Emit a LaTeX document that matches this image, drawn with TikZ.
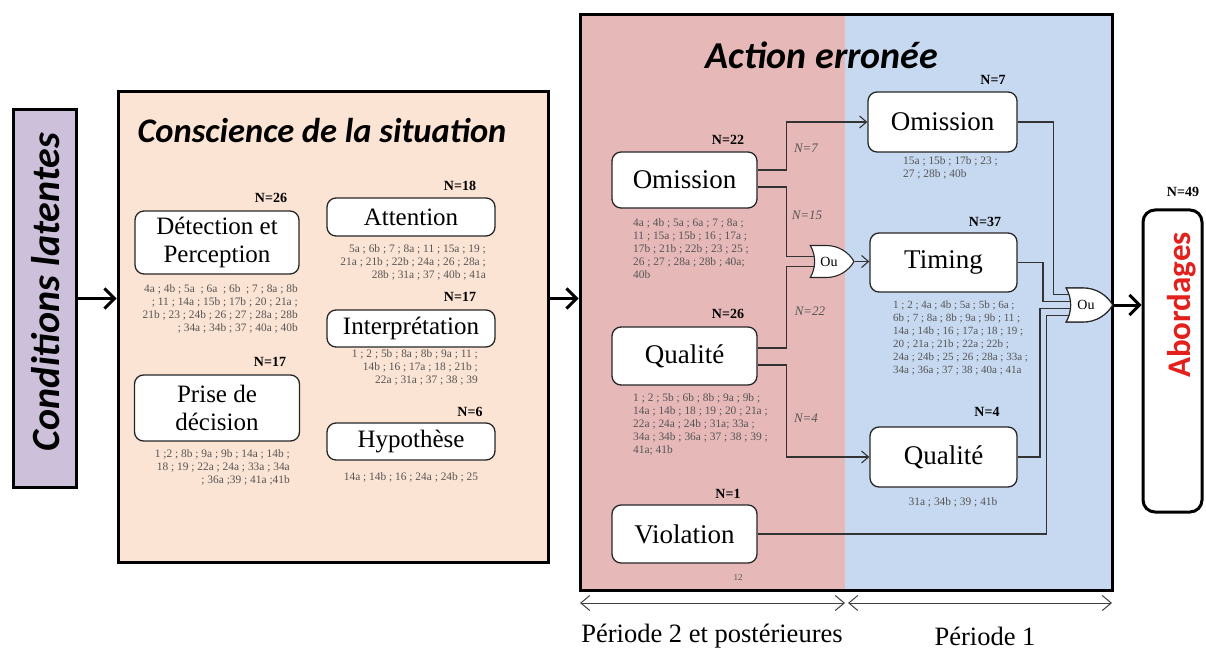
\documentclass[tikz,border=0pt]{standalone}
\usepackage{fontspec}
\setmainfont{Liberation Serif}
\newfontfamily\calib{Carlito}
\usetikzlibrary{arrows.meta,shapes.gates.logic.US,calc}
\definecolor{lavc}{HTML}{CCC0DA}
\definecolor{peachc}{HTML}{FCE4D4}
\definecolor{pinkc}{HTML}{E6B9B8}
\definecolor{bluec}{HTML}{C6D9F0}
\definecolor{redc}{HTML}{E3201B}
\definecolor{listc}{HTML}{555555}
\begin{document}
\begin{tikzpicture}[x=1pt,y=-1pt,
  bigbox/.style={draw=black,line width=3pt,inner sep=0pt},
  inbox/.style={draw=black!85,line width=1.3pt,rounded corners=9pt,fill=white,
    font=\fontsize{25}{28}\selectfont,align=center,inner sep=0pt},
  abox/.style={inbox,font=\fontsize{27}{28}\selectfont},
  nlab/.style={font=\bfseries\fontsize{14}{14}\selectfont,inner sep=0pt},
  lst/.style={font=\fontsize{11.4}{13}\selectfont,text=listc,inner sep=0pt},
  elab/.style={font=\itshape\fontsize{13}{13}\selectfont,text=listc,inner sep=0pt},
  wire/.style={draw=black!80,line width=1.1pt},
  conn/.style={wire,-{Straight Barb[length=7pt,width=12pt]}},
  bigarrow/.style={line width=3pt,-{Straight Barb[length=10pt,width=20pt]}},
  period/.style={draw=black!75,line width=1pt,{Straight Barb[length=9pt,width=15pt]}-{Straight Barb[length=9pt,width=15pt]}},
  orgate/.style={or gate US,draw=black!85,line width=1.1pt,fill=white,inner sep=0pt,
    font=\fontsize{14}{14}\selectfont},
  ptext/.style={font=\fontsize{26.5}{26.5}\selectfont,inner sep=0pt}
]
\useasboundingbox (0,0) rectangle (1206,652);

% Conditions latentes
\node[bigbox,fill=lavc,minimum width=63pt,minimum height=377pt] (cond) at (44.5,298.5) {};
\node[rotate=90,font=\calib\bfseries\itshape\fontsize{40}{40}\selectfont,inner sep=0pt] (condt) at (46,292) {Conditions latentes};

% Conscience de la situation
\node[bigbox,fill=peachc,minimum width=430pt,minimum height=470pt] (consc) at (333,327) {};
\node[font=\calib\bfseries\itshape\fontsize{34.5}{34}\selectfont,inner sep=0pt] (consct) at (322,131) {Conscience de la situation};

\node[inbox,minimum width=164pt,minimum height=63pt] (det) at (217,242.5) {Détection et\\Perception};
\node[nlab] (ndet) at (271,198) {N=26};
\node[lst,align=right,anchor=north east] (ldet) at (298,284) {4a ; 4b ; 5a ~; 6a ~; 6b ~; 7 ; 8a ; 8b\\ ; 11 ; 14a ; 15b ; 17b ; 20 ; 21a ;\\21b ; 23 ; 24b ; 26 ; 27 ; 28a ; 28b\\; 34a ; 34b ; 37 ; 40a ; 40b};

\node[inbox,minimum width=165pt,minimum height=66pt] (prise) at (217,408) {Prise de\\décision};
\node[nlab] (nprise) at (270,362) {N=17};
\node[lst,align=right,anchor=north east] (lprise) at (290,449) {1 ;2 ; 8b ; 9a ; 9b ; 14a ; 14b ;\\18 ; 19 ; 22a ; 24a ; 33a ; 34a\\; 36a ;39 ; 41a ;41b};

\node[inbox,minimum width=168pt,minimum height=38pt] (att) at (411,217) {Attention};
\node[nlab] (natt) at (460,186) {N=18};
\node[lst,align=right,anchor=north east] (latt) at (486,244) {5a ; 6b ; 7 ; 8a ; 11 ; 15a ; 19 ;\\21a ; 21b ; 22b ; 24a ; 26 ; 28a ;\\28b ; 31a ; 37 ; 40b ; 41a};

\node[inbox,minimum width=168pt,minimum height=37pt] (interp) at (411,328.5) {Interprétation};
\node[nlab] (ninterp) at (460,297) {N=17};
\node[lst,align=right,anchor=north east] (linterp) at (478,349) {1 ; 2 ; 5b ; 8a ; 8b ; 9a ; 11 ;\\14b ; 16 ; 17a ; 18 ; 21b ;\\22a ; 31a ; 37 ; 38 ; 39};

\node[inbox,minimum width=168pt,minimum height=37pt] (hyp) at (411,441.5) {Hypothèse};
\node[nlab] (nhyp) at (470,412) {N=6};
\node[lst] (lhyp) at (411,477) {14a ; 14b ; 16 ; 24a ; 24b ; 25};

% Action erronee
\fill[pinkc] (580,15) rectangle (845,590);
\fill[bluec] (845,15) rectangle (1112,590);
\node[bigbox,minimum width=532pt,minimum height=575pt] (act) at (846,302.5) {};
\node[font=\calib\bfseries\itshape\fontsize{38}{38}\selectfont,inner sep=0pt] (actt) at (822,55) {Action erronée};

\node[abox,minimum width=145pt,minimum height=56pt] (om1) at (684.5,180) {Omission};
\node[nlab] (nom1) at (728,140) {N=22};
\node[lst,align=left,anchor=north west] (lom1) at (633,218) {4a ; 4b ; 5a ; 6a ; 7 ; 8a ;\\11 ; 15a ; 15b ; 16 ; 17a ;\\17b ; 21b ; 22b ; 23 ; 25 ;\\26 ; 27 ; 28a ; 28b ; 40a;\\40b};

\node[abox,minimum width=145pt,minimum height=58pt] (qu1) at (684.5,356) {Qualité};
\node[nlab] (nqu1) at (728,314) {N=26};
\node[lst,align=left,anchor=north west] (lqu1) at (633,393) {1 ; 2 ; 5b ; 6b ; 8b ; 9a ; 9b ;\\14a ; 14b ; 18 ; 19 ; 20 ; 21a ;\\22a ; 24a ; 24b ; 31a; 33a ;\\34a ; 34b ; 36a ; 37 ; 38 ; 39 ;\\41a; 41b};

\node[abox,minimum width=145pt,minimum height=58pt] (vio) at (684.5,534) {Violation};
\node[nlab] (nvio) at (728,494) {N=1};
\node[lst,font=\fontsize{9}{9}\selectfont] (lvio) at (738,578) {12};

\node[abox,minimum width=149pt,minimum height=60pt] (om2) at (942.5,122) {Omission};
\node[nlab] (nom2) at (993,80) {N=7};
\node[lst,align=left,anchor=north west] (lom2) at (903,156) {15a ; 15b ; 17b ; 23 ;\\27 ; 28b ; 40b};

\node[abox,minimum width=147pt,minimum height=59pt] (tim) at (943.5,262.5) {Timing};
\node[nlab] (ntim) at (985,222) {N=37};
\node[lst,align=left,anchor=north west,font=\fontsize{11}{13}\selectfont] (ltim) at (893,301) {1 ; 2 ; 4a ; 4b ; 5a ; 5b ; 6a ;\\6b ; 7 ; 8a ; 8b ; 9a ; 9b ; 11 ;\\14a ; 14b ; 16 ; 17a ; 18 ; 19 ;\\20 ; 21a ; 21b ; 22a ; 22b ;\\24a ; 24b ; 25 ; 26 ; 28a ; 33a ;\\34a ; 36a ; 37 ; 38 ; 40a ; 41a};

\node[abox,minimum width=147pt,minimum height=60pt] (qu2) at (943.5,457) {Qualité};
\node[nlab] (nqu2) at (987,412) {N=4};
\node[lst] (lqu2) at (953,502) {31a ; 34b ; 39 ; 41b};

% OR gates
\node[orgate,logic gate inputs=nn,minimum width=32pt,minimum height=32pt] (or1) at (829,261.5) {Ou};
\node[orgate,logic gate inputs=nnnn,minimum width=35pt,minimum height=34pt] (or2) at (1086,305) {Ou};

% middle connectors
\draw[conn] ([yshift=10pt]om1.east) -- ++(29,0) |- (om2.west);
\draw[wire] ([yshift=-7pt]om1.east) -- ++(29,0) |- (or1.input 1);
\draw[wire] ([yshift=8pt]qu1.east) -- ++(29,0) |- (or1.input 2);
\draw[conn] ([yshift=-9pt]qu1.east) -- ++(29,0) |- (qu2.west);
\draw[conn] (or1.output) -- (or1.output -| tim.west);
\node[elab] (e7) at (806,148) {N=7};
\node[elab] (e15) at (807,215) {N=15};
\node[elab] (e22) at (810,311) {N=22};
\node[elab] (e4) at (806,418) {N=4};

% right connectors
\draw[wire] (om2.east) -| ([xshift=-15pt]or2.input 1) -- (or2.input 1);
\draw[wire] (tim.east) -| ([xshift=-27pt]or2.input 2) -- (or2.input 2);
\draw[wire] (qu2.east) -| ([xshift=-30pt]or2.input 3) -- (or2.input 3);
\draw[wire] (vio.east) -| ([xshift=-22pt]or2.input 4) -- (or2.input 4);
\node[orgate,logic gate inputs=nnnn,minimum width=35pt,minimum height=34pt] at (1086,305) {Ou};

% Abordages
\node[bigbox,rounded corners=12pt,fill=white,minimum width=59pt,minimum height=302pt] (abord) at (1172.5,361) {};
\node[rotate=90,text=redc,font=\calib\bfseries\fontsize{33}{33}\selectfont,inner sep=0pt] (abordt) at (1182,305) {Abordages};
\node[nlab] (nab) at (1183,192) {N=49};

% main arrows
\draw[bigarrow] (cond.east) -- (cond.east -| consc.west);
\draw[bigarrow] (cond.east -| consc.east) -- (cond.east -| act.west);
\draw[bigarrow] (or2.output) -- (or2.output -| abord.west);

% periods
\node[ptext] (p2) at (712,636) {Période 2 et postérieures};
\node[ptext] (p1) at (985,636) {Période 1};
\coordinate (pa) at (580,603);
\coordinate (pb) at (845,603);
\coordinate (pc) at (848,603);
\coordinate (pd) at (1112,603);
\draw[period] (pa) -- (pb);
\draw[period] (pc) -- (pd);
\end{tikzpicture}
\end{document}
